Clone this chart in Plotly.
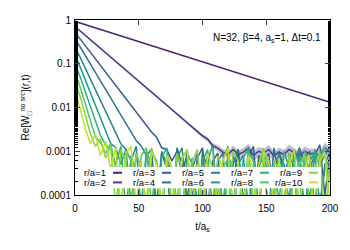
import plotly.graph_objects as go

# ---------------- data ----------------
t = [0, 0.1] + list(range(4, 201, 4))

w_r1 = [1, 0.93, 0.857, 0.787, 0.723, 0.664, 0.610, 0.560, 0.514, 0.472, 0.434, 0.398, 0.366, 0.336,
        0.308, 0.283, 0.260, 0.239, 0.219, 0.201, 0.185, 0.170, 0.156, 0.143, 0.132, 0.121, 0.111,
        0.102, 0.0935, 0.0859, 0.0789, 0.0724, 0.0665, 0.0611, 0.0561, 0.0515, 0.0473, 0.0435,
        0.0399, 0.0366, 0.0337, 0.0309, 0.0284, 0.0261, 0.0239, 0.0220, 0.0202, 0.0185, 0.0170,
        0.0156, 0.0144, 0.0132]
w_r2 = [1, 0.688, 0.562, 0.447, 0.355, 0.282, 0.224, 0.178, 0.141, 0.112, 0.0891, 0.0708, 0.0562,
        0.0447, 0.0355, 0.0282, 0.0224, 0.0178, 0.0141, 0.0112, 0.00891, 0.00708, 0.00562, 0.00447,
        0.00355, 0.00282, 0.00224, 0.0019, 0.00135, 0.00118, 0.00095, 0.00085, 0.0011, 0.00085,
        0.00095, 0.0012, 0.0008, 0.001, 0.0009, 0.0011, 0.00078, 0.00095, 0.00085, 0.0011, 0.0009,
        0.00075, 0.001, 0.00088, 0.0009, 0.0008, 0.0012, 0.00095]
err_r2 = [0, 0, 0, 0, 0, 0, 0, 0, 0, 0, 0, 0, 0, 0, 0, 0, 0, 0, 0, 0.01, 0.02, 0.03, 0.04, 0.05,
          0.06, 0.08, 0.1, 0.12, 0.14, 0.16, 0.18, 0.2, 0.22, 0.22, 0.24, 0.24, 0.25, 0.25, 0.26,
          0.26, 0.27, 0.27, 0.28, 0.28, 0.28, 0.29, 0.29, 0.3, 0.3, 0.3, 0.3, 0.3]
w_r3 = [1, 0.50, 0.370, 0.261, 0.184, 0.129, 0.0912, 0.0643, 0.0453, 0.0319, 0.0225, 0.0158, 0.0112,
        0.00787, 0.00555, 0.00391, 0.00275,
        0.0021, 0.0012, 0.0011, 0.0006, 0.0010, 0.0003, 0.0009, 0.00008, 0.0007, 0.0012,
        0.00005, 0.0006, 0.0009, 0.00003, 0.0008, 0.0002, 0.0011, 0.00006, 0.0007, 0.0013,
        0.00004, 0.0006, 0.0009, 0.00007, 0.0010, 0.0003, 0.0007, 0.00002, 0.0012, 0.0005,
        0.00008, 0.0008, 0.0014, 0.0001, 0.0009]
w_r4 = [1, 0.360, 0.243, 0.155, 0.0990, 0.0632, 0.0404, 0.0258, 0.0165, 0.0105, 0.00671, 0.00428,
        0.00274, 0.00175,
        0.0013, 0.0008, 0.0011, 0.00005, 0.0009, 0.0004, 0.00003, 0.0012, 0.0005, 0.00008,
        0.0007, 0.00002, 0.0010, 0.0004, 0.00006, 0.0006, 0.0009, 0.00003, 0.0005, 0.0011,
        0.00007, 0.0004, 0.00002, 0.0008, 0.0005, 0.00004, 0.0012, 0.0003, 0.00006, 0.0009,
        0.0004, 0.00002, 0.0007, 0.0010, 0.00005, 0.0005, 0.0008, 0.0013]
w_r5 = [1, 0.234, 0.142, 0.0802, 0.0453, 0.0256, 0.0145, 0.00817, 0.00461, 0.00261, 0.00147,
        0.0011, 0.0006, 0.0013, 0.00004, 0.0008, 0.0003, 0.00006, 0.0010, 0.0005, 0.00002,
        0.0007, 0.0012, 0.00005, 0.0004, 0.0009, 0.00003, 0.0006, 0.0014, 0.00007, 0.0005,
        0.00002, 0.0008, 0.0004, 0.00005, 0.0011, 0.0006, 0.00003, 0.0007, 0.0003, 0.00008,
        0.0009, 0.0005, 0.00002, 0.0006, 0.0012, 0.00004, 0.0004, 0.0008, 0.00006, 0.0005, 0.0010]
w_r6 = [1, 0.153, 0.0847, 0.0433, 0.0221, 0.0113, 0.00575, 0.00294, 0.00150,
        0.0012, 0.0005, 0.0011, 0.00006, 0.0009, 0.0004, 0.00003, 0.0010, 0.0006, 0.00005,
        0.0008, 0.0003, 0.00002, 0.0007, 0.0011, 0.00006, 0.0005, 0.00003, 0.0009, 0.0004,
        0.00007, 0.0006, 0.0013, 0.00002, 0.0005, 0.0008, 0.00005, 0.0004, 0.00003, 0.0010,
        0.0006, 0.00004, 0.0007, 0.0003, 0.00008, 0.0011, 0.0005, 0.00002, 0.0006, 0.0009,
        0.00005, 0.0004, 0.0007]
w_r7 = [1, 0.0995, 0.0506, 0.0233, 0.0108, 0.00497, 0.00229,
        0.0014, 0.0011, 0.0005, 0.0013, 0.00004, 0.0008, 0.0003, 0.00006, 0.0010, 0.0005,
        0.00002, 0.0007, 0.0012, 0.00005, 0.0004, 0.00003, 0.0009, 0.0005, 0.00007, 0.0006,
        0.0011, 0.00002, 0.0005, 0.00006, 0.0008, 0.0004, 0.00003, 0.0007, 0.0012, 0.00005,
        0.0004, 0.0009, 0.00002, 0.0006, 0.00007, 0.0010, 0.0004, 0.00003, 0.0008, 0.0005,
        0.00006, 0.0011, 0.0004, 0.00002, 0.0006]
w_r8 = [1, 0.0634, 0.0295, 0.0123, 0.00513, 0.00214,
        0.0016, 0.0009, 0.0015, 0.0004, 0.00005, 0.0010, 0.0006, 0.00003, 0.0008, 0.0012,
        0.00006, 0.0005, 0.00002, 0.0009, 0.0004, 0.00007, 0.0007, 0.0010, 0.00003, 0.0005,
        0.00005, 0.0008, 0.0012, 0.00002, 0.0004, 0.0007, 0.00006, 0.0005, 0.00003, 0.0009,
        0.0006, 0.00004, 0.0011, 0.0004, 0.00007, 0.0006, 0.00002, 0.0008, 0.0005, 0.00005,
        0.0010, 0.0003, 0.00006, 0.0007, 0.0012, 0.00004]
w_r9 = [1, 0.0414, 0.0178, 0.00676, 0.00257,
        0.0013, 0.0019, 0.0007, 0.0013, 0.00005, 0.0011, 0.0006, 0.00003, 0.0009, 0.0004,
        0.00006, 0.0012, 0.0005, 0.00002, 0.0007, 0.00005, 0.0009, 0.0004, 0.00003, 0.0006,
        0.0011, 0.00006, 0.0005, 0.00002, 0.0008, 0.0004, 0.00005, 0.0010, 0.0006, 0.00003,
        0.0007, 0.00007, 0.0005, 0.0012, 0.00002, 0.0006, 0.0004, 0.00005, 0.0009, 0.00003,
        0.0005, 0.0008, 0.00006, 0.0004, 0.0010, 0.00002, 0.0006]
w_r10 = [1, 0.0247, 0.00968, 0.00333,
         0.0015, 0.0024, 0.0008, 0.0017, 0.0004, 0.0012, 0.00004, 0.0009, 0.0013, 0.00006,
         0.0006, 0.00002, 0.0010, 0.0005, 0.00005, 0.0008, 0.0004, 0.00003, 0.0007, 0.0011,
         0.00006, 0.0005, 0.00002, 0.0009, 0.0004, 0.00007, 0.0006, 0.0012, 0.00003, 0.0005,
         0.00005, 0.0008, 0.0004, 0.00002, 0.0010, 0.0006, 0.00006, 0.0007, 0.00003, 0.0005,
         0.0011, 0.00005, 0.0004, 0.0008, 0.00002, 0.0006, 0.0009, 0.00004]

series = [w_r1, w_r2, w_r3, w_r4, w_r5, w_r6, w_r7, w_r8, w_r9, w_r10]
names = ["r/a=%d" % i for i in range(1, 11)]
colors = ["#482173", "#433e85", "#38588c", "#2d708e", "#25858e",
          "#1e9b8a", "#2ab07f", "#52c569", "#86d549", "#c2df23"]
x_ticks = [0, 50, 100, 150, 200]
y_ticks = [1, 0.1, 0.01, 0.001, 0.0001]
y_ticktext = ["1", "0.1", "0.01", "0.001", "0.0001"]

FONT = "Liberation Sans, Arial, sans-serif"
# the page body has an 8px margin, so the figure is shifted by 8px in the window
OFF = 8
PL, PR, PT, PB = 75, 330, 14, 195          # plot area in window pixels
W, H = 350 - OFF, 250 - OFF
ML, MT = PL - OFF, PT - OFF
MR, MB = W - (PR - OFF), H - (PB - OFF)
PW, PH = PR - PL, PB - PT

fig = go.Figure()

# error band for r/a=2
up = [v * (1 + e) for v, e in zip(w_r2, err_r2)]
lo = [v * (1 - e) for v, e in zip(w_r2, err_r2)]
fig.add_trace(go.Scatter(x=t + t[::-1], y=up + lo[::-1], fill="toself",
                         fillcolor="rgba(67,62,133,0.35)", line=dict(width=0),
                         hoverinfo="skip", showlegend=False))

for name, ys, c in zip(names, series, colors):
    fig.add_trace(go.Scatter(x=t, y=ys, mode="lines", name=name,
                             line=dict(color=c, width=1.5), showlegend=False))

def px_x(p):
    return (p - PL) / PW

def px_y(p):
    return (PB - p) / PH

# legend box inside plot (gnuplot style: text then sample)
shapes = [dict(type="rect", xref="paper", yref="paper", x0=px_x(85), x1=px_x(321),
               y0=px_y(188), y1=px_y(166), fillcolor="white", line=dict(width=0), layer="above")]
annotations = []
for i, (name, c) in enumerate(zip(names, colors)):
    col, row = i // 2, i % 2
    xr = 108 + 49 * col
    yy = 172 + 10 * row
    annotations.append(dict(x=px_x(xr), y=px_y(yy), xref="paper", yref="paper", text=name,
                            showarrow=False, xanchor="right", yanchor="middle",
                            font=dict(family=FONT, size=9.5, color="black")))
    shapes.append(dict(type="line", xref="paper", yref="paper", x0=px_x(xr + 5), x1=px_x(xr + 14),
                       y0=px_y(yy), y1=px_y(yy), line=dict(color=c, width=2), layer="above"))

annotations.append(dict(x=px_x(323), y=px_y(33), xref="paper", yref="paper",
                        text="N=32, β=4, a<sub>s</sub>=1, Δt=0.1", showarrow=False,
                        xanchor="right", yanchor="middle",
                        font=dict(family=FONT, size=10, color="black")))

fig.update_layout(
    width=W, height=H, margin=dict(l=ML, r=MR, t=MT, b=MB),
    paper_bgcolor="white", plot_bgcolor="white",
    font=dict(family=FONT, size=10, color="black"),
    shapes=shapes, annotations=annotations, showlegend=False,
)
fig.update_xaxes(range=[0, 200], tickvals=x_ticks, ticks="inside", ticklen=5,
                 showline=True, linecolor="black", linewidth=1, mirror="ticks",
                 showgrid=False, zeroline=False, ticklabelstandoff=4,
                 title=dict(text="t/a<sub>s</sub>", font=dict(family=FONT, size=10), standoff=9))
fig.update_yaxes(type="log", range=[-4, 0], tickvals=y_ticks, ticktext=y_ticktext,
                 ticks="inside", ticklen=5, showline=True, linecolor="black", linewidth=1,
                 mirror="ticks", showgrid=False, zeroline=False, ticklabelstandoff=1,
                 minor=dict(ticks="inside", ticklen=2.5, tickcolor="black", showgrid=False),
                 title=dict(text="Re[W<sub>□</sub><sup>no src</sup>](r,t)",
                            font=dict(family=FONT, size=10), standoff=8))

fig.write_html("out.html")
